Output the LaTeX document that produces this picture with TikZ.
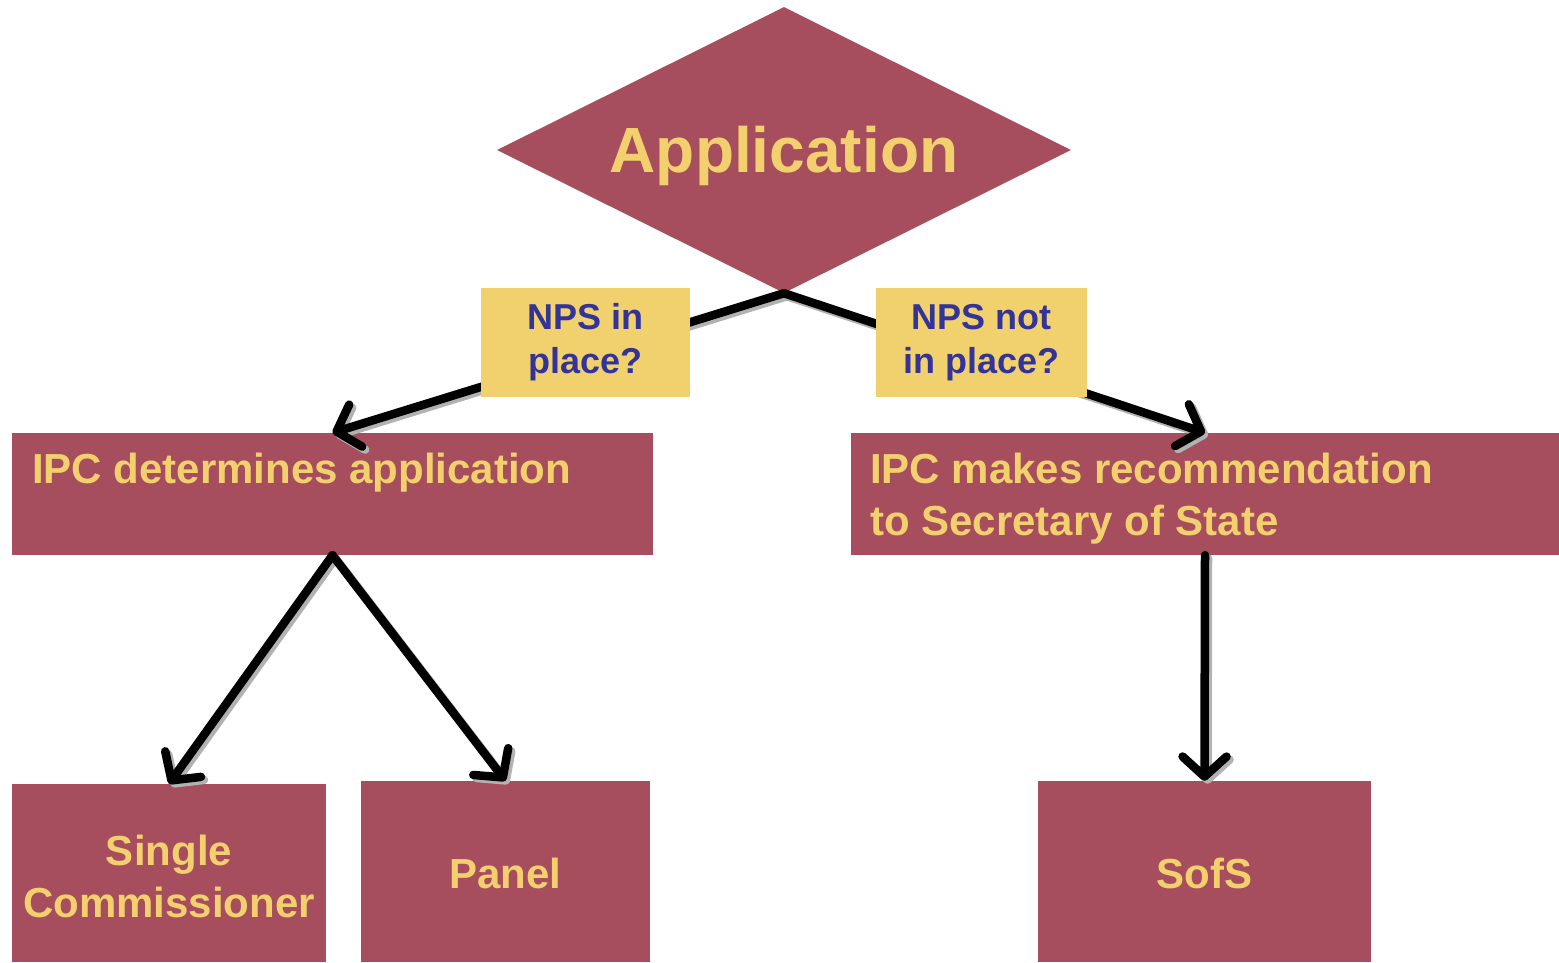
\documentclass[tikz,border=0pt]{standalone}
\usepackage{fontspec}
\setmainfont{Liberation Sans}
\usetikzlibrary{shapes.geometric,arrows.meta}
\definecolor{maroon}{HTML}{A64D5E}
\definecolor{gold}{HTML}{F2D06E}
\definecolor{labelfill}{HTML}{F0D16E}
\definecolor{navy}{HTML}{333399}
\tikzset{
  box/.style={rectangle, fill=maroon, inner sep=0pt},
  boxtext/.style={text=gold, font=\bfseries\fontsize{42}{52}\selectfont, inner sep=0pt, align=left},
  label box/.style={rectangle, fill=labelfill, inner sep=0pt, minimum width=210pt, minimum height=109pt,
     text=navy, font=\bfseries\fontsize{36}{44}\selectfont, align=center},
  conn/.style={line width=8.5pt, line cap=round, line join=round,
     -{Straight Barb[length=20pt,width=44pt,line cap=round,line join=round]}},
  connshadow/.style={conn, draw=black!30}
}
\begin{document}
\begin{tikzpicture}[x=1pt,y=-1pt]
\useasboundingbox[fill=white] (0,0) rectangle (1559,962);

% diamond
\node[diamond, fill=maroon, inner sep=0pt, minimum width=574pt, minimum height=286pt, aspect=2,
      text=gold, font=\bfseries\fontsize{64}{70}\selectfont, text height=45pt, text depth=0pt]
      (app) at (784,150) {Application};

% boxes
\node[box, minimum width=641pt, minimum height=122pt] (ipcd) at (332.5,494) {};
\node[boxtext, anchor=base west] (ipcdt) at (32,483) {IPC determines application};

\node[box, minimum width=708pt, minimum height=122pt] (ipcm) at (1205,494) {};
\node[boxtext, anchor=north west] (ipcmt) at (870,452.5) {IPC makes recommendation\\to Secretary of State};

\node[box, minimum width=314pt, minimum height=178pt] (single) at (169,873) {};
\node[boxtext, align=center] (singlet) at (169,876) {Single\\Commissioner};

\node[box, minimum width=289pt, minimum height=181pt] (panel) at (505.5,871.5) {};
\node[boxtext] (panelt) at (505.5,873) {Panel};

\node[box, minimum width=333pt, minimum height=181pt] (sofs) at (1204.5,871.5) {};
\node[boxtext] (sofst) at (1204.5,873) {SofS};

% connector shadows
\begin{scope}[transform canvas={xshift=3pt,yshift=-3pt}]
\draw[connshadow] (app.south) -- (ipcd.north);
\draw[connshadow] (app.south) -- (ipcm.north);
\draw[connshadow] (ipcd.south) -- (single.north);
\draw[connshadow] (ipcd.south) -- (panel.north);
\draw[connshadow] (ipcm.south) -- (sofs.north);
\end{scope}
% connectors
\draw[conn] (app.south) -- (ipcd.north);
\draw[conn] (app.south) -- (ipcm.north);
\draw[conn] (ipcd.south) -- (single.north);
\draw[conn] (ipcd.south) -- (panel.north);
\draw[conn] (ipcm.south) -- (sofs.north);

% labels
\node[label box, minimum width=209pt] (l1) at (585.5,342.5) {NPS in\\place?};
\node[label box, minimum width=211pt] (l2) at (981.5,342.5) {NPS not\\in place?};
\end{tikzpicture}
\end{document}
